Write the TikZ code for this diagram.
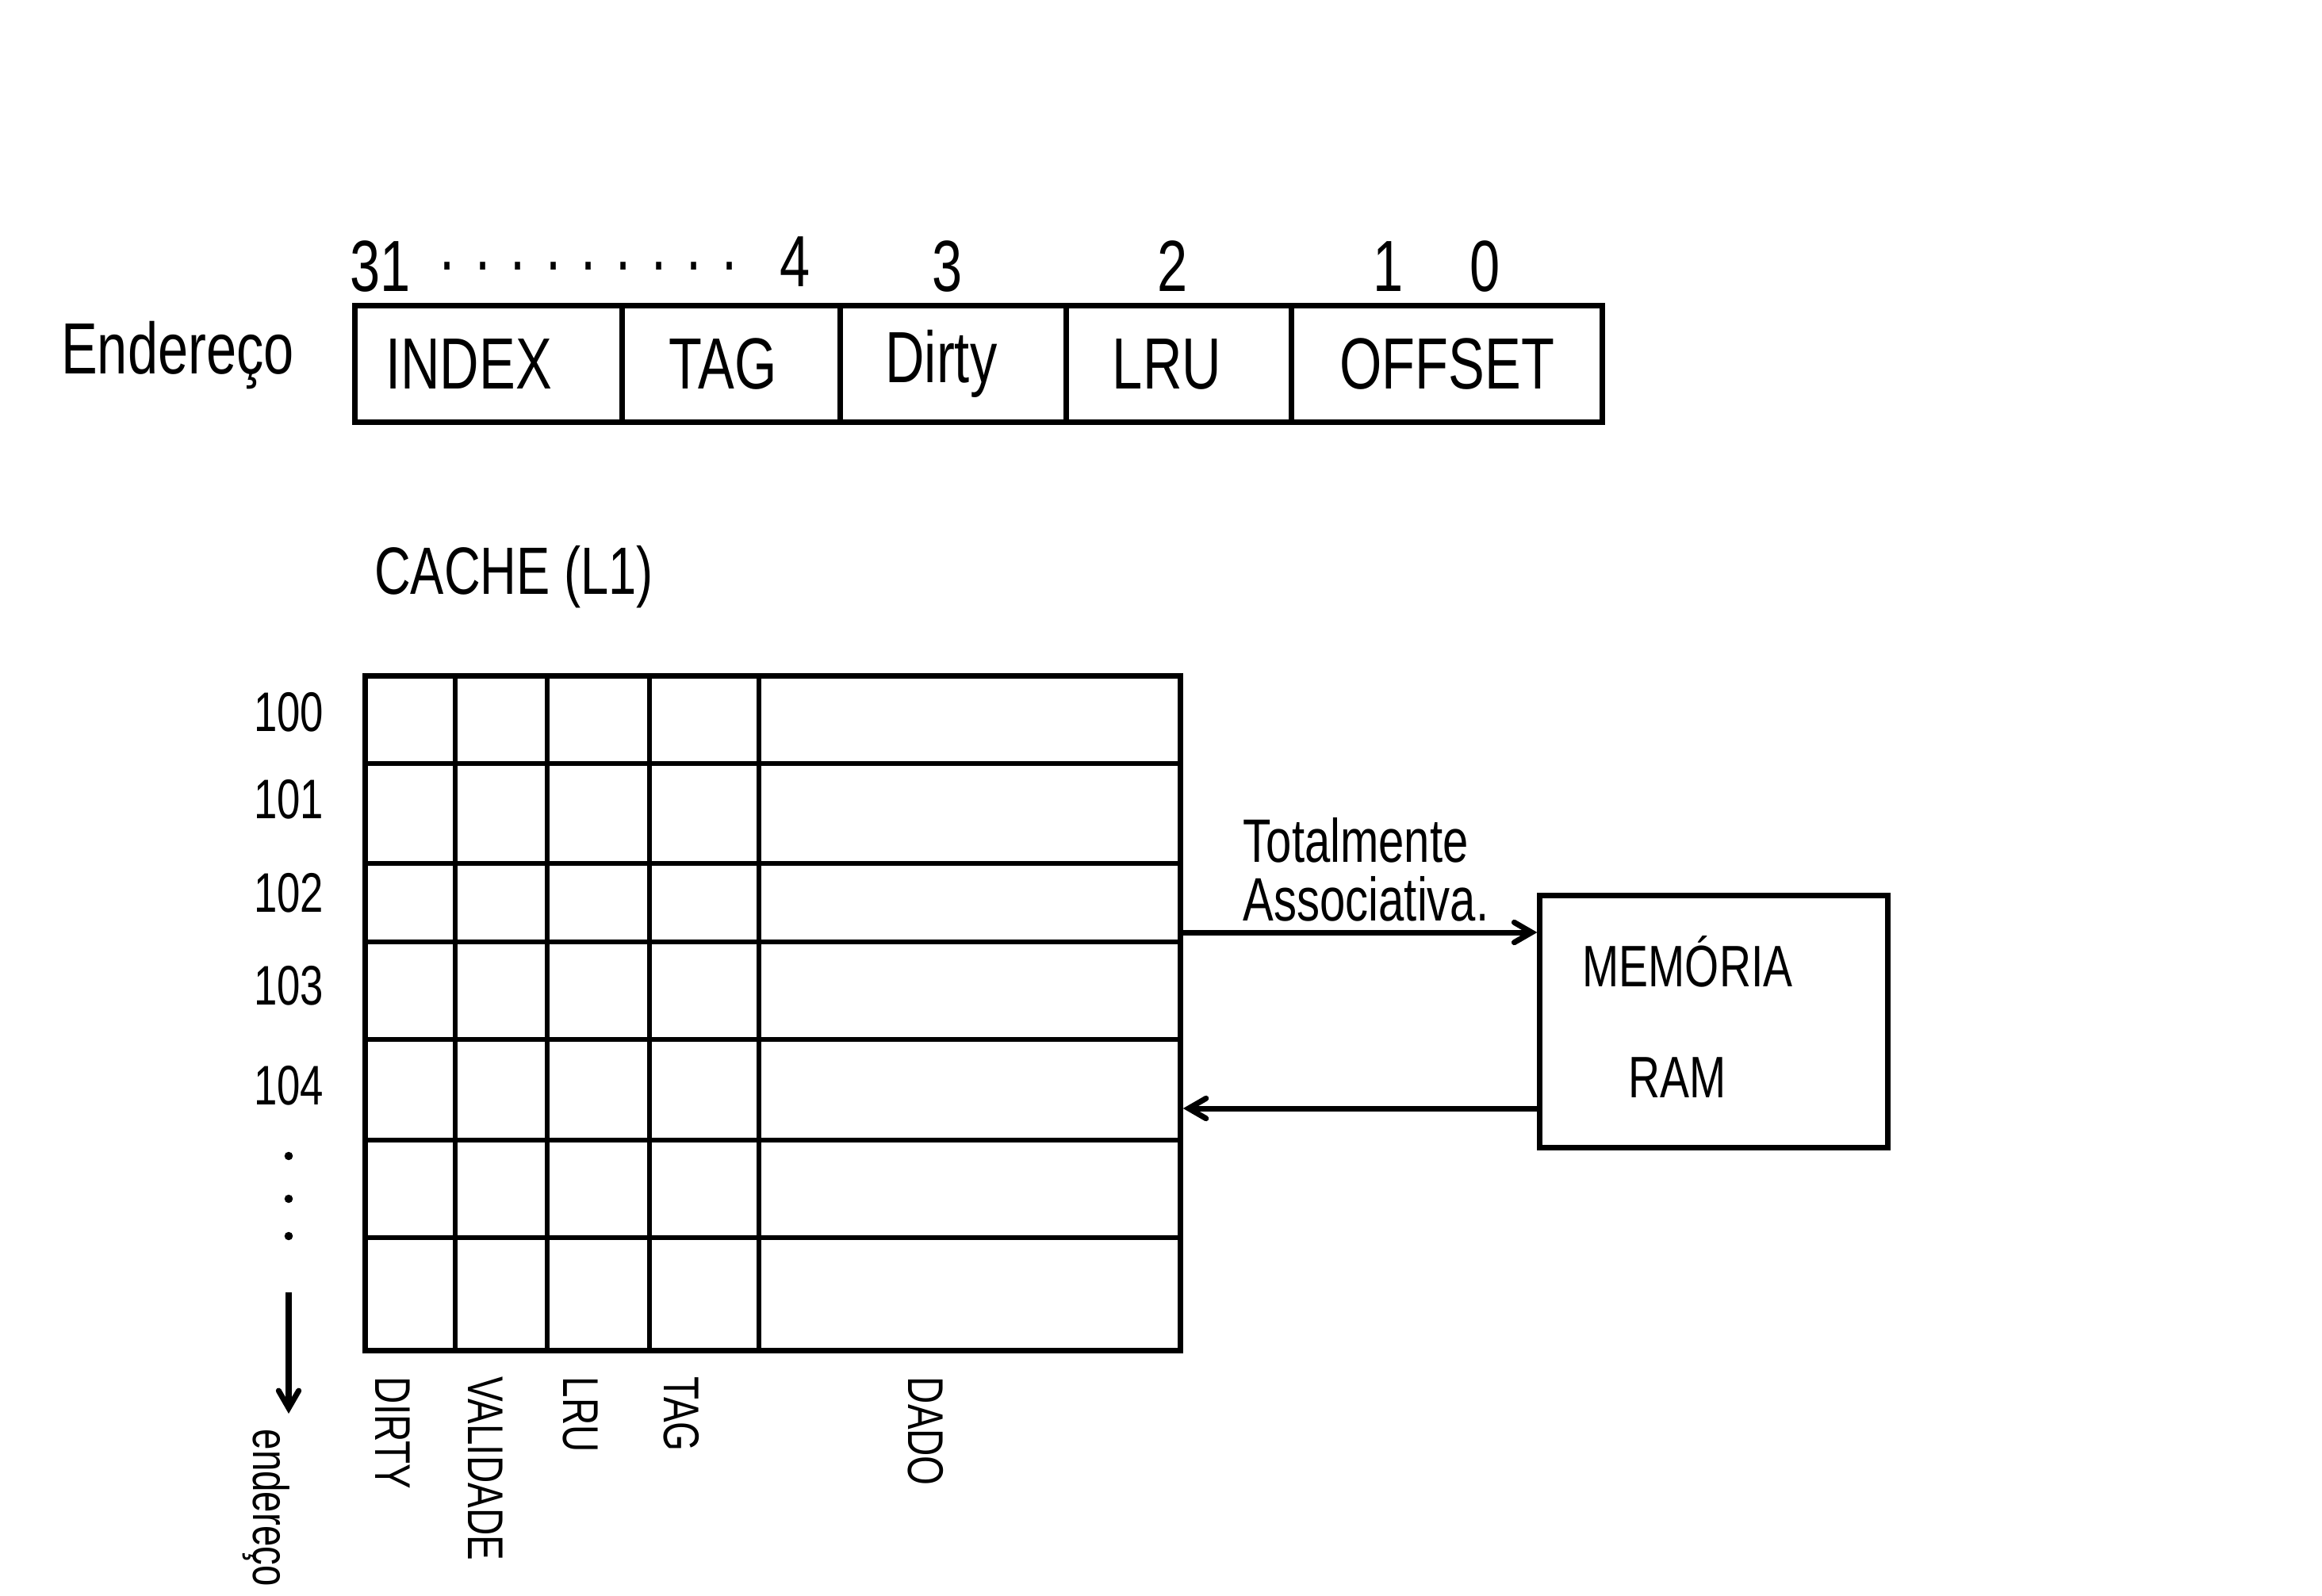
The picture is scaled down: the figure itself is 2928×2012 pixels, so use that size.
\documentclass[tikz,border=0pt]{standalone}
\usepackage{fontspec}
\setmainfont{Liberation Sans}[FakeStretch=0.75]
\usetikzlibrary{positioning, arrows}
\tikzstyle{field} = [
    rectangle,
    minimum height=1.46cm,
    inner sep=0pt,
    outer sep=0pt,
    line width=2pt,
    draw=black,
    font=\fontsize{26}{30}\selectfont
]
\tikzstyle{bitnum} = [font=\fontsize{26}{30}\selectfont]
\tikzstyle{rowlabel} = [font=\fontsize{20}{24}\selectfont]
\tikzstyle{collabel} = [
    rotate=-90,
    anchor=west,
    inner sep=0pt,
    font=\fontsize{18}{22}\selectfont
]
\tikzstyle{ramtext} = [font=\fontsize{21}{25}\selectfont]
\tikzstyle{gridline} = [line width=1.8pt]
\tikzstyle{arrow} = [line width=2pt,->,>=angle 60]

\begin{document}
\begin{tikzpicture}[x=0.01cm, y=-0.01cm]
\useasboundingbox (0,0) rectangle (2928,2012);

% address fields
\node (addr) [bitnum] at (224,448) {Endereço};

\node (index) [field, minimum width=3.36cm] at (616,459) {\hspace{-0.5cm}INDEX};
\node (tag) [field, minimum width=2.75cm, right=0pt of index] {\hspace{-0.2cm}TAG};
\node (dirty) [field, minimum width=2.85cm, right=0pt of tag] {\hspace{-0.3cm}Dirty};
\node (lru) [field, minimum width=2.84cm, right=0pt of dirty] {\hspace{-0.3cm}LRU};
\node (offset) [field, minimum width=3.92cm, right=0pt of lru] {OFFSET};

% bit numbers
\node (b31) [bitnum] at (480,336) {31};
\node (bdots) [bitnum] at (742,336) {. . . . . . . . .};
\node (b4) [bitnum] at (1003,330) {4};
\node (b3) [bitnum] at (1195,336) {3};
\node (b2) [bitnum] at (1479,336) {2};
\node (b1) [bitnum] at (1751,336) {1};
\node (b0) [bitnum] at (1873,336) {0};

% cache
\node (title) [font=\fontsize{24}{28}\selectfont] at (648,728) {CACHE (L1)};

\node (cache) [draw, line width=2pt, minimum width=10.27cm, minimum height=8.5cm,
    inner sep=0pt] at (974.5,1278) {};
\foreach \x in {574,690,819,957}
    \draw [gridline] (cache.north -| \x,0) -- (cache.south -| \x,0);
\foreach \y in {963,1089,1188,1311,1438,1561}
    \draw [gridline] (cache.west |- 0,\y) -- (cache.east |- 0,\y);

\foreach \n/\y in {100/898,101/1008,102/1126,103/1243,104/1369}
    \node (row\n) [rowlabel] at (364,\y) {\n};
\foreach \y in {1458,1512,1559}
    \fill (364,\y) circle (1.5pt);

\coordinate (downtop) at (364,1630);
\coordinate (downend) at (364,1783);
\draw [arrow] (downtop) -- (downend);
\node (endlabel) [collabel] at (336,1802) {endereço};

\node (cdirty) [collabel] at (495,1736) {DIRTY};
\node (cvalid) [collabel] at (612,1736) {VALIDADE};
\node (clru) [collabel] at (732,1736) {LRU};
\node (ctag) [collabel] at (859,1736) {TAG};
\node (cdado) [collabel] at (1167,1736) {DADO};

% main memory
\node (ram) [draw, line width=2pt, minimum width=4.38cm, minimum height=3.17cm,
    inner sep=0pt] at (2161,1288.5) {};
\node (memtxt) [ramtext] at (2128,1213) {MEMÓRIA};
\node (ramtxt) [ramtext] at (2115,1359) {RAM};

\draw [arrow] (cache.east |- 0,1176) -- (ram.west |- 0,1176);
\draw [arrow] (ram.west |- 0,1398) -- (cache.east |- 0,1398);
\node (assoc) [anchor=south west, align=left, inner sep=2pt,
    font=\fontsize{22}{21}\selectfont] at (1560,1170) {Totalmente\\Associativa.};

\end{tikzpicture}
\end{document}
